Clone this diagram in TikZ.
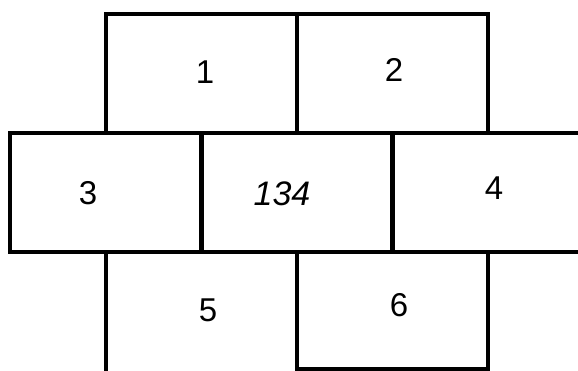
\documentclass[tikz,border=0pt]{standalone}
\usepackage{fontspec}
\setmainfont{Liberation Sans}
\usetikzlibrary{positioning}

\begin{document}
\begin{tikzpicture}[x=1pt, y=-1pt,
  cell/.style={draw, line width=3.2pt, rectangle, minimum width=191pt, minimum height=119pt, inner sep=0pt, outer sep=0pt},
  num/.style={font=\fontsize{33}{33}\selectfont, inner sep=0pt}]
  \clip (0,0) rectangle (578,371);
  \fill[white] (0,0) rectangle (578,371);
  % top row
  \node[cell, anchor=north west] (c1) at (106,14) {};
  \node[cell, right=0pt of c1] (c2) {};
  % middle row, the free cell runs on past the right edge
  \node[cell, anchor=north west] (c3) at (10,133) {};
  \node[cell, anchor=north west, minimum width=230pt] (c4) at (392,133) {};
  \node[cell, line width=4pt, anchor=north west] (mid) at (c1.south) {};
  % bottom row
  \node[cell, anchor=north west, minimum height=125pt] (c5) at (106,252) {};
  \node[cell, anchor=north west, minimum height=117pt] (c6) at (297,252) {};
  % labels
  \node[num] (t1) at (205,72) {1};
  \node[num] (t2) at (394,70) {2};
  \node[num] (t3) at (88,193) {3};
  \node[num, font=\fontsize{34}{34}\selectfont\itshape] (t134) at (282,194) {134};
  \node[num] (t4) at (494,188) {4};
  \node[num] (t5) at (208,310) {5};
  \node[num] (t6) at (399,305) {6};
\end{tikzpicture}
\end{document}
